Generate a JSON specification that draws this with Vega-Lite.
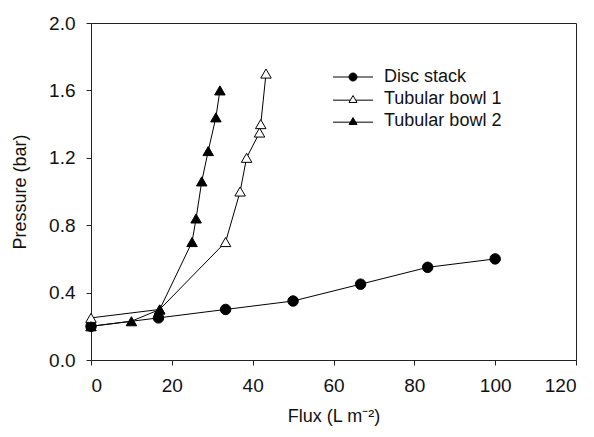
{
  "$schema": "https://vega.github.io/schema/vega-lite/v6.json",
  "width": 485,
  "height": 337,
  "autosize": {"type": "none"},
  "padding": {"left": 91, "top": 23, "right": 18, "bottom": 77},
  "background": "white",
  "config": {
    "view": {"stroke": "#222", "strokeWidth": 1},
    "font": "Liberation Sans",
    "axis": {
      "domainColor": "#222",
      "tickColor": "#222",
      "labelColor": "#111",
      "titleColor": "#111",
      "labelFont": "Liberation Sans",
      "titleFont": "Liberation Sans",
      "labelFontSize": 19,
      "titleFontSize": 18,
      "titleFontWeight": "normal",
      "grid": false,
      "tickSize": 5,
      "domainWidth": 1,
      "tickWidth": 1
    },
    "legend": {
      "title": null,
      "orient": "none",
      "legendX": 253,
      "legendY": 45,
      "labelFontSize": 18,
      "labelFont": "Liberation Sans",
      "labelColor": "#111",
      "labelOffset": 22,
      "rowPadding": 4,
      "symbolSize": 64,
      "symbolOpacity": 1,
      "symbolStrokeWidth": 1
    }
  },
  "data": {
    "values": [
      {"series": "Disc stack", "flux": 0, "pressure": 0.2},
      {"series": "Disc stack", "flux": 16.7, "pressure": 0.25},
      {"series": "Disc stack", "flux": 33.3, "pressure": 0.3},
      {"series": "Disc stack", "flux": 50, "pressure": 0.35},
      {"series": "Disc stack", "flux": 66.7, "pressure": 0.45},
      {"series": "Disc stack", "flux": 83.3, "pressure": 0.55},
      {"series": "Disc stack", "flux": 100, "pressure": 0.6},
      {"series": "Tubular bowl 1", "flux": 0, "pressure": 0.25},
      {"series": "Tubular bowl 1", "flux": 17, "pressure": 0.3},
      {"series": "Tubular bowl 1", "flux": 33.3, "pressure": 0.7},
      {"series": "Tubular bowl 1", "flux": 36.9, "pressure": 1.0},
      {"series": "Tubular bowl 1", "flux": 38.5, "pressure": 1.2},
      {"series": "Tubular bowl 1", "flux": 41.7, "pressure": 1.35},
      {"series": "Tubular bowl 1", "flux": 42, "pressure": 1.4},
      {"series": "Tubular bowl 1", "flux": 43.3, "pressure": 1.7},
      {"series": "Tubular bowl 2", "flux": 0, "pressure": 0.2},
      {"series": "Tubular bowl 2", "flux": 10, "pressure": 0.23},
      {"series": "Tubular bowl 2", "flux": 17, "pressure": 0.3},
      {"series": "Tubular bowl 2", "flux": 25, "pressure": 0.7},
      {"series": "Tubular bowl 2", "flux": 26, "pressure": 0.84},
      {"series": "Tubular bowl 2", "flux": 27.4, "pressure": 1.06},
      {"series": "Tubular bowl 2", "flux": 29, "pressure": 1.24},
      {"series": "Tubular bowl 2", "flux": 30.9, "pressure": 1.44},
      {"series": "Tubular bowl 2", "flux": 31.9, "pressure": 1.6}
    ]
  },
  "encoding": {
    "x": {
      "field": "flux", "type": "quantitative",
      "scale": {"domain": [0, 120], "nice": false, "zero": false},
      "axis": {"values": [0, 20, 40, 60, 80, 100, 120], "title": "Flux (L m\u207b\u00b2)", "labelPadding": 11, "titlePadding": 12}
    },
    "y": {
      "field": "pressure", "type": "quantitative",
      "scale": {"domain": [0, 2], "nice": false, "zero": false},
      "axis": {"values": [0, 0.4, 0.8, 1.2, 1.6, 2.0], "format": ".1f", "title": "Pressure (bar)", "labelPadding": 11, "titlePadding": 19}
    }
  },
  "layer": [
    {
      "mark": {"type": "line", "color": "black", "strokeWidth": 1},
      "encoding": {"detail": {"field": "series"}}
    },
    {
      "mark": {"type": "point", "stroke": "black", "strokeWidth": 1, "size": 110, "opacity": 1, "fillOpacity": 1},
      "encoding": {
        "shape": {
          "field": "series", "type": "nominal",
          "scale": {"domain": ["Disc stack", "Tubular bowl 1", "Tubular bowl 2"], "range": ["circle", "triangle-up", "triangle-up"]},
          "legend": null
        },
        "fill": {
          "field": "series", "type": "nominal",
          "scale": {"domain": ["Disc stack", "Tubular bowl 1", "Tubular bowl 2"], "range": ["black", "white", "black"]},
          "legend": null
        }
      }
    },
    {
      "transform": [{"filter": "false"}],
      "mark": {"type": "point", "strokeWidth": 1, "size": 64, "opacity": 1, "fillOpacity": 1},
      "encoding": {
        "shape": {
          "field": "series", "type": "nominal",
          "scale": {"domain": ["Disc stack", "Tubular bowl 1", "Tubular bowl 2"], "range": ["M-5,0H-1A1,1,0,1,1,1,0A1,1,0,1,1,-1,0M1,0H5", "M-5,0.29H-0.667M0.667,0.29H5M0,-0.866L-1,0.866L1,0.866Z", "M-5,0.29H-0.667M0.667,0.29H5M0,-0.866L-1,0.866L1,0.866Z"]}
        },
        "fill": {
          "field": "series", "type": "nominal",
          "scale": {"domain": ["Disc stack", "Tubular bowl 1", "Tubular bowl 2"], "range": ["black", "white", "black"]}
        },
        "stroke": {
          "field": "series", "type": "nominal",
          "scale": {"domain": ["Disc stack", "Tubular bowl 1", "Tubular bowl 2"], "range": ["black", "black", "black"]}
        }
      }
    }
  ],
  "resolve": {
    "scale": {"shape": "independent", "fill": "independent", "stroke": "independent"},
    "legend": {"shape": "independent", "fill": "independent", "stroke": "independent"}
  }
}
